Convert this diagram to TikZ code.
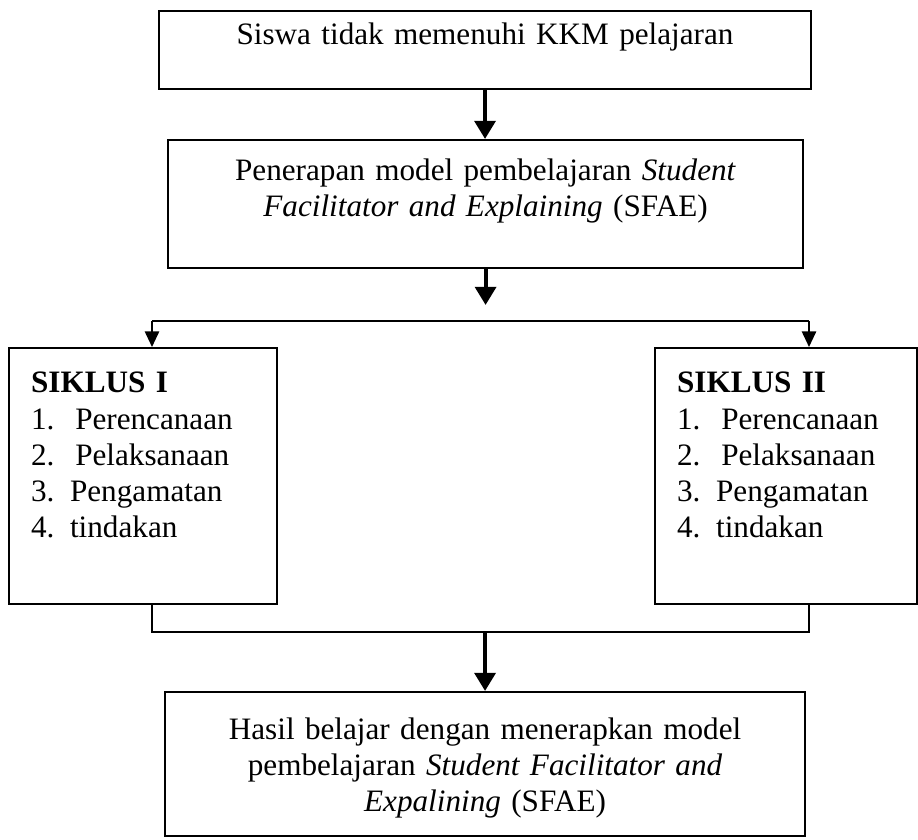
\documentclass[tikz,border=0pt]{standalone}
\usepackage{fontspec}
\setmainfont{Liberation Serif}
\usetikzlibrary{arrows.meta, positioning}

\begin{document}
\begin{tikzpicture}[
        x=0.385pt, y=-0.385pt,
        every node/.style={font=\fontsize{12}{13.9}\selectfont},
        block/.style={rectangle, draw, line width=0.8pt, anchor=north west, inner ysep=0pt, align=center},
        sideblock/.style={rectangle, draw, line width=0.8pt, anchor=north west, inner ysep=0pt, inner xsep=8.5pt, align=left, text height=17.3pt, text depth=81.2pt},
        bigarrow/.style={line width=1.6pt, -{Triangle[width=8pt,length=7pt]}},
        arrow/.style={line width=0.65pt, -{Triangle[width=5.5pt,length=6pt]}},
        link/.style={line width=0.65pt}
    ]
    \useasboundingbox (0,0) rectangle (918,839);

    % Problem
    \node [block, text width=240pt, minimum width=251pt, text height=12.7pt, text depth=17.3pt] (kkm) at (158,10) {Siswa tidak memenuhi KKM pelajaran};

    % Model SFAE
    \node [block, text width=230pt, minimum width=244.5pt, text height=15.4pt, text depth=33.9pt] (sfae) at (167,139) {Penerapan model pembelajaran \textit{Student}\\ \textit{Facilitator and Explaining} (SFAE)};

    % Siklus I and II
    \node [sideblock, text width=86.2pt] (siklus1) at (8,347) {\textbf{SIKLUS I}\\ 1.\ \ Perencanaan\\ 2.\ \ Pelaksanaan\\ 3. Pengamatan\\ 4. tindakan};
    \node [sideblock, text width=83.9pt] (siklus2) at (654,347) {\textbf{SIKLUS II}\\ 1.\ \ Perencanaan\\ 2.\ \ Pelaksanaan\\ 3. Pengamatan\\ 4. tindakan};

    % Result
    \node [block, text width=235pt, minimum width=246.4pt, text height=18.1pt, text depth=37.3pt] (hasil) at (164,691) {Hasil belajar dengan menerapkan model\\ pembelajaran \textit{Student Facilitator and}\\ \textit{Expalining} (SFAE)};

    % Branch points
    \coordinate (splittip) at (484,305);
    \coordinate (forkL) at (152,321);
    \coordinate (forkR) at (809,321);
    \coordinate (joinL) at (152,632);
    \coordinate (joinR) at (809,632);

    % Connecting lines
    \draw [bigarrow] (kkm.south) -- (kkm.south |- sfae.north);
    \draw [bigarrow] (sfae.south) -- (sfae.south |- splittip);
    \draw [link] (forkL) -- (forkR);
    \draw [arrow] (forkL) -- (forkL |- siklus1.north);
    \draw [arrow] (forkR) -- (forkR |- siklus2.north);
    \draw [link] (joinL |- siklus1.south) -- (joinL) -- (joinR) -- (joinR |- siklus2.south);
    \draw [bigarrow] (hasil.north |- joinL) -- (hasil.north);

\end{tikzpicture}
\end{document}
